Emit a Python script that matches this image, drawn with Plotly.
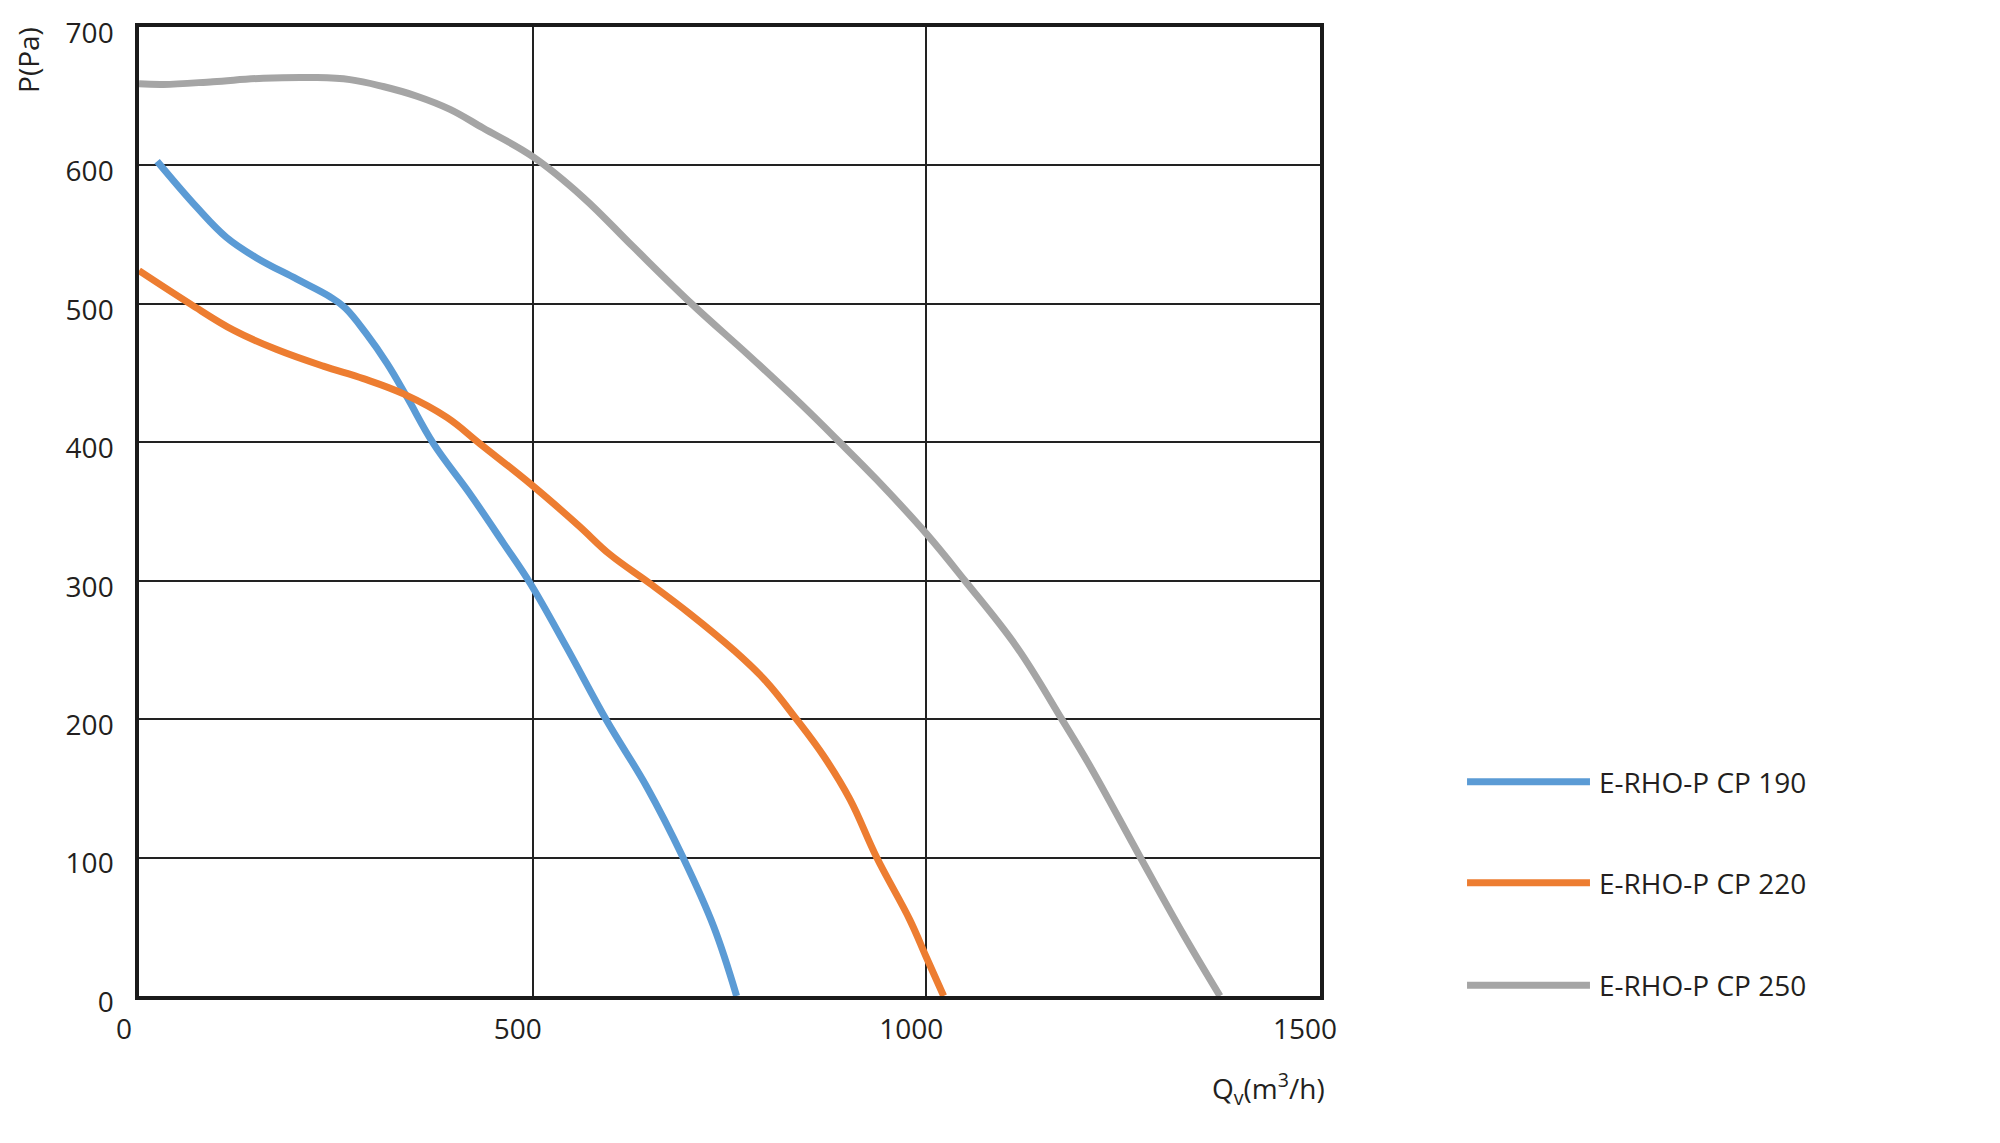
import plotly.graph_objects as go

# ---- data ----
series_names = ["E-RHO-P CP 190", "E-RHO-P CP 220", "E-RHO-P CP 250"]
series_colors = ["#5B9BD5", "#ED7D31", "#A5A5A5"]

q_190 = [23, 73, 111, 150, 200, 243, 262, 288, 315, 340, 374, 420, 463, 497, 543, 594, 645, 691, 730, 759]
p_190 = [603, 570, 548, 533, 518, 505, 497, 479, 457, 433, 399, 363, 327, 298, 252, 199, 151, 100, 50, 0]

q_220 = [0, 65, 120, 175, 234, 285, 336, 391, 433, 497, 558, 598, 649, 700, 755, 797, 835, 870, 903, 937, 979, 1000, 1022]
p_220 = [524, 500, 481, 467, 455, 446, 435, 418, 399, 370, 340, 319, 298, 276, 250, 227, 200, 173, 142, 100, 55, 28, 0]

q_250 = [0, 31, 94, 158, 221, 268, 310, 353, 395, 437, 501, 564, 628, 702, 776, 840, 890, 937, 1000, 1049, 1115, 1172, 1208, 1271, 1326, 1373]
p_250 = [659, 658.5, 660.5, 663, 663.5, 662, 657, 650, 640.5, 627, 606, 577, 541, 500, 462, 428, 400, 373, 334, 300, 252, 200, 166, 101, 45, 0]

x_ticks = [0, 500, 1000, 1500]
y_ticks = [0, 100, 200, 300, 400, 500, 600, 700]

FONT = "Open Sans"
TXT = "#231f20"
FS = 28

fig = go.Figure()
for name, color, xs, ys in zip(series_names, series_colors,
                               [q_190, q_220, q_250], [p_190, p_220, p_250]):
    fig.add_trace(go.Scatter(x=xs, y=ys, name=name, mode="lines",
                             line=dict(color=color, width=7, shape="spline", smoothing=1.1),
                             showlegend=False))

# custom legend (long line samples)
leg_y = [0.221, 0.117, 0.011]
shapes = []
annotations = []
for name, color, yy in zip(series_names, series_colors, leg_y):
    shapes.append(dict(type="line", xref="paper", yref="paper",
                       x0=1.1245, x1=1.2286, y0=yy, y1=yy,
                       line=dict(color=color, width=7)))
    annotations.append(dict(xref="paper", yref="paper", x=1.2345, y=yy,
                            xanchor="left", yanchor="middle", showarrow=False,
                            text=name, font=dict(family=FONT, size=FS, color=TXT)))

# axis titles
annotations.append(dict(xref="paper", yref="paper", x=-0.094, y=0.966,
                        xanchor="center", yanchor="middle", textangle=-90,
                        showarrow=False, text="P(Pa)",
                        font=dict(family=FONT, size=FS, color=TXT)))
annotations.append(dict(xref="paper", yref="paper", x=1.006, y=-0.095,
                        xanchor="right", yanchor="middle", showarrow=False,
                        text="Q<sub>v</sub>(m<sup>3</sup>/h)",
                        font=dict(family=FONT, size=FS, color=TXT)))

fig.update_layout(
    width=1992, height=1135,
    margin=dict(l=131, r=680, t=19, b=147, autoexpand=False),
    paper_bgcolor="white", plot_bgcolor="white",
    shapes=shapes, annotations=annotations,
    font=dict(family=FONT, size=FS, color=TXT),
)
fig.update_xaxes(range=[0, 1500], tickvals=x_ticks, showgrid=True, gridcolor="#222222", gridwidth=1.8,
                 showline=True, linecolor="#1a1a1a", linewidth=3.5, mirror=True, automargin=False,
                 zeroline=False, ticks="", ticklabelshift=-15, ticklabelstandoff=6,
                 tickfont=dict(family=FONT, size=FS, color=TXT))
fig.update_yaxes(range=[0, 700], tickvals=y_ticks, showgrid=True, gridcolor="#222222", gridwidth=1.8,
                 showline=True, linecolor="#1a1a1a", linewidth=3.5, mirror=True, automargin=False,
                 zeroline=False, ticks="", ticklabelshift=6, ticklabelstandoff=16,
                 tickfont=dict(family=FONT, size=FS, color=TXT))

fig.write_html("out.html")
